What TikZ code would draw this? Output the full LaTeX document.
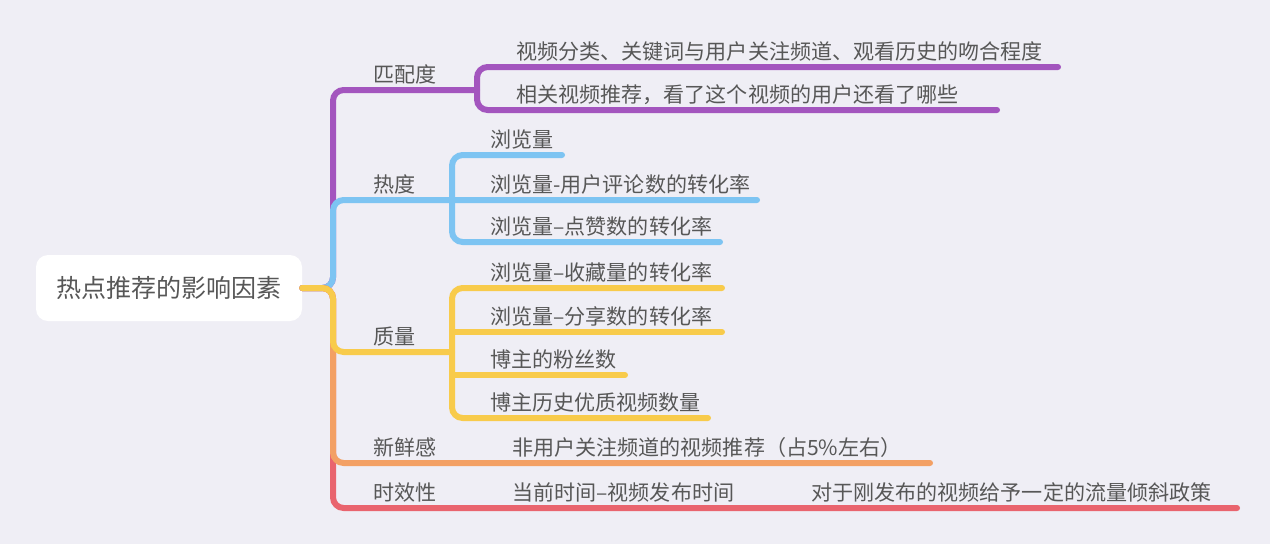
\documentclass[tikz,border=0pt]{standalone}
\usepackage{fontspec}
\setmainfont{Noto Sans CJK SC}
\usepackage{xcolor}
\usepackage{tikz}
\definecolor{bgc}{HTML}{EFEEF5}
\definecolor{txt}{HTML}{575757}
\definecolor{purp}{HTML}{A355BE}
\definecolor{blu}{HTML}{7DC4F2}
\definecolor{yel}{HTML}{F8CB4B}
\definecolor{ora}{HTML}{F3A064}
\definecolor{rd}{HTML}{E9646E}
\tikzset{
lnk/.style={line width=4.5pt,line cap=round,rounded corners=8pt},
lbl/.style={anchor=base west,inner sep=0pt,text=txt,font=\fontsize{15.8pt}{18pt}\selectfont},
rootbox/.style={fill=white,rounded corners=9pt,minimum width=199.5pt,minimum height=49.5pt,
  text=txt,font=\fontsize{18.8pt}{22pt}\selectfont}
}
\begin{document}
\begin{tikzpicture}[x=0.75pt,y=-0.75pt]
\fill[bgc] (0,0) rectangle (1270,544);
\useasboundingbox (0,0) rectangle (1270,544);
\node[rootbox] (root) at (169,288) {热点推荐的影响因素};
\coordinate (hub) at (333,288);
\coordinate (ppm) at (477,90);
\coordinate (bbm) at (757,200);
\coordinate (yym) at (452,352);
\coordinate (oom) at (930,463);
\coordinate (rrm) at (1237,508);
% branches
\draw[lnk,purp] (root.east) -- (hub) -- (333,90) -- (ppm);
\draw[lnk,purp] (1058,67) -- (477,67) -- (477,110) -- (997,110);
\draw[lnk,blu] (root.east) -- (hub) -- (333,200) -- (bbm);
\draw[lnk,blu] (562,155) -- (452,155) -- (452,242) -- (720,242);
\draw[lnk,rd] (root.east) -- (hub) -- (333,508) -- (rrm);
\draw[lnk,ora] (root.east) -- (hub) -- (333,463) -- (oom);
\draw[lnk,yel] (722,288) -- (452,288) -- (452,418) -- (708,418);
\draw[lnk,yel] (452,332) -- (722,332) (452,375) -- (625,375);
\draw[lnk,yel] (root.east) -- (hub) -- (333,352) -- (yym);
% labels
\node[lbl] (pp) at (373,82) {匹配度};
\node[lbl] (pp1) at (516,59) {视频分类、关键词与用户关注频道、观看历史的吻合程度};
\node[lbl] (pp2) at (516,102) {相关视频推荐，看了这个视频的用户还看了哪些};
\node[lbl] (bb) at (373,192) {热度};
\node[lbl] (bb1) at (490,147) {浏览量};
\node[lbl] (bb2) at (490,192) {浏览量-用户评论数的转化率};
\node[lbl] (bb3) at (490,234) {浏览量–点赞数的转化率};
\node[lbl] (yy) at (373,344) {质量};
\node[lbl] (yy1) at (490,280) {浏览量–收藏量的转化率};
\node[lbl] (yy2) at (490,324) {浏览量–分享数的转化率};
\node[lbl] (yy3) at (490,367) {博主的粉丝数};
\node[lbl] (yy4) at (490,410) {博主历史优质视频数量};
\node[lbl] (oo) at (373,455) {新鲜感};
\node[lbl] (oo1) at (512,455) {非用户关注频道的视频推荐（占5\%左右）};
\node[lbl] (rr) at (373,500) {时效性};
\node[lbl] (rr1) at (512,500) {当前时间–视频发布时间};
\node[lbl] (rr2) at (811,500) {对于刚发布的视频给予一定的流量倾斜政策};
\end{tikzpicture}
\end{document}
